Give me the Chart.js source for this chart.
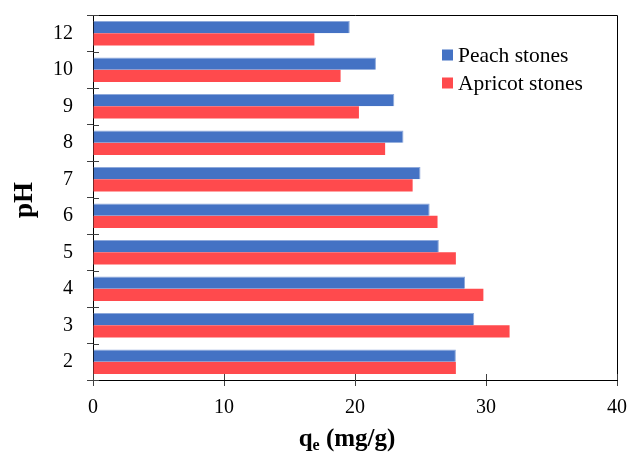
<!DOCTYPE html>
<html>
<head>
<meta charset="utf-8">
<script src="https://cdn.jsdelivr.net/npm/chart.js@4/dist/chart.umd.min.js"></script>
<style>
  html, body { margin: 0; padding: 0; background: #ffffff; }
  #wrap { width: 629px; height: 453px; position: relative; }
</style>
</head>
<body>
<div id="wrap"><canvas id="chart"></canvas></div>
<script>
// pH values (top to bottom) and adsorption capacity q_e (mg/g)
const phLabels = ['12', '10', '9', '8', '7', '6', '5', '4', '3', '2'];
const peachStones = [19.6, 21.6, 23.0, 23.7, 25.0, 25.7, 26.4, 28.4, 29.1, 27.7];
const apricotStones = [16.9, 18.9, 20.3, 22.3, 24.4, 26.3, 27.7, 29.8, 31.8, 27.7];
const xTicks = [0, 10, 20, 30, 40];

const SERIF = "'Liberation Serif', 'Times New Roman', serif";
const BLUE = '#4472C4';
const RED = '#FF4A4D';

Chart.defaults.font.family = SERIF;
Chart.defaults.color = '#000000';

// Extra decorations: frame, inward halves of the tick marks, legend and axis titles
const decorations = {
  id: 'decorations',
  afterDraw(chart) {
    const { ctx, chartArea: a, scales } = chart;
    const xs = scales.x, ys = scales.y;
    ctx.save();

    // top and right frame lines
    ctx.strokeStyle = '#000000';
    ctx.lineWidth = 1;
    ctx.beginPath();
    ctx.moveTo(a.left, a.top + 0.5);
    ctx.lineTo(a.right + 0.5, a.top + 0.5);
    ctx.lineTo(a.right + 0.5, a.bottom);
    ctx.stroke();

    // tick marks continue inside the plot area
    ctx.strokeStyle = '#404040';
    ctx.beginPath();
    xTicks.forEach(v => {
      const px = Math.round(xs.getPixelForValue(v)) + 0.5;
      ctx.moveTo(px, a.bottom);
      ctx.lineTo(px, a.bottom - 6);
    });
    for (let i = 0; i <= phLabels.length; i++) {
      const py = Math.round(ys.getPixelForValue(i - 0.5)) + 0.5;
      ctx.moveTo(a.left, py);
      ctx.lineTo(a.left + 6, py);
    }
    ctx.stroke();

    // legend
    const legend = [['Peach stones', BLUE, 55], ['Apricot stones', RED, 83]];
    ctx.font = '21.5px ' + SERIF;
    ctx.textBaseline = 'middle';
    ctx.textAlign = 'left';
    legend.forEach(([txt, col, cy]) => {
      ctx.fillStyle = col;
      ctx.fillRect(442, cy - 5.5, 11, 11);
      ctx.fillStyle = '#000000';
      ctx.fillText(txt, 458, cy + 1);
    });

    // x-axis title: q_e (mg/g)
    ctx.fillStyle = '#000000';
    ctx.textBaseline = 'alphabetic';
    const big = 'bold 25px ' + SERIF, small = 'bold 16px ' + SERIF;
    ctx.font = big; const wq = ctx.measureText('q').width;
    const wr = ctx.measureText(' (mg/g)').width;
    ctx.font = small; const we = ctx.measureText('e').width;
    let x0 = 347 - (wq + we + wr) / 2;
    const base = 446;
    ctx.font = big; ctx.fillText('q', x0, base);
    ctx.font = small; ctx.fillText('e', x0 + wq, base + 4);
    ctx.font = big; ctx.fillText(' (mg/g)', x0 + wq + we, base);

    // y-axis title: pH
    ctx.translate(25, 200);
    ctx.rotate(-Math.PI / 2);
    ctx.font = 'bold 27px ' + SERIF;
    ctx.textAlign = 'center';
    ctx.textBaseline = 'middle';
    ctx.fillText('pH', 0, 0);
    ctx.restore();
  }
};

new Chart(document.getElementById('chart'), {
  type: 'bar',
  data: {
    labels: phLabels,
    datasets: [
      {
        label: 'Peach stones',
        data: peachStones,
        backgroundColor: BLUE,
        borderColor: '#8EA9DB',
        borderWidth: { top: 1, right: 1, bottom: 0, left: 0 },
        borderSkipped: 'start'
      },
      {
        label: 'Apricot stones',
        data: apricotStones,
        backgroundColor: RED,
        borderWidth: 0
      }
    ]
  },
  options: {
    indexAxis: 'y',
    responsive: true,
    maintainAspectRatio: false,
    animation: false,
    layout: { padding: { top: 15, right: 12, left: 0, bottom: 0 } },
    datasets: { bar: { categoryPercentage: 0.667, barPercentage: 1.0 } },
    plugins: {
      legend: { display: false },
      tooltip: { enabled: false }
    },
    scales: {
      x: {
        type: 'linear',
        min: 0,
        max: 40,
        afterBuildTicks(scale) { scale.ticks = xTicks.map(v => ({ value: v })); },
        afterFit(scale) {
          scale.height = 73;
          scale.paddingLeft = 0;
          scale.paddingRight = 0;
        },
        ticks: { font: { size: 20 }, color: '#000000', padding: 10 },
        grid: { drawOnChartArea: false, tickLength: 6, color: '#404040' },
        border: { display: true, color: '#000000', width: 1 }
      },
      y: {
        type: 'category',
        offset: true,
        afterFit(scale) {
          scale.width = 93;
          scale.paddingTop = 0;
          scale.paddingBottom = 0;
        },
        ticks: { font: { size: 20 }, color: '#000000', padding: 14 },
        grid: { offset: true, drawOnChartArea: false, tickLength: 6, color: '#404040' },
        border: { display: true, color: '#000000', width: 1 }
      }
    }
  },
  plugins: [decorations]
});
</script>
</body>
</html>
